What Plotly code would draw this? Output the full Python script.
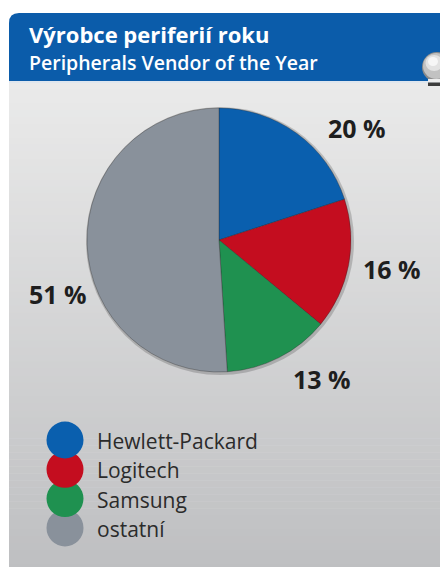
import math
import plotly.graph_objects as go

# ---- data ----
vendors = ["Hewlett-Packard", "Logitech", "Samsung", "ostatní"]
shares = [20, 16, 13, 51]
slice_colors = ["#0a5fae", "#c40d1f", "#1f9150", "#89919b"]
title_cz = "Výrobce periferií roku"
title_en = "Peripherals Vendor of the Year"

# ---- layout geometry (reference pixels; page body has an 8px margin) ----
OFF = 8
W, H = 448, 575
FW, FH = W - OFF, H - 2 * OFF
CX, CY, R = 219, 240, 132
label_angles = [51, 99.5, 143.5, 251.5]   # degrees clockwise from top
label_radii = [178, 175, 173, 170]

shapes = []

# body gradient (bands)
top_c = (234, 234, 234)
bot_c = (190, 191, 193)
y0b, y1b = 82, 571
n = 70
for i in range(n):
    t = i / (n - 1)
    c = tuple(int(round(top_c[k] + (bot_c[k] - top_c[k]) * t)) for k in range(3))
    ya = y0b + (y1b - y0b) * i / n
    yb = y0b + (y1b - y0b) * (i + 1) / n + 0.6
    shapes.append(dict(type="rect", xref="x", yref="y", x0=9, x1=443, y0=ya, y1=yb,
                       fillcolor="rgb(%d,%d,%d)" % c, line=dict(width=0), layer="below"))
# right blue border
shapes.append(dict(type="rect", xref="x", yref="y", x0=442, x1=449, y0=82, y1=576,
                   fillcolor="#1d67b3", line=dict(width=0), layer="below"))
shapes.append(dict(type="rect", xref="x", yref="y", x0=441, x1=443, y0=82, y1=576,
                   fillcolor="#5b8fc6", line=dict(width=0), layer="below"))
# header
shapes.append(dict(type="path", xref="x", yref="y",
                   path="M 9,82 L 9,23 Q 9,13 19,13 L 449,13 L 449,82 Z",
                   fillcolor="#0b5caa", line=dict(width=0), layer="below"))
shapes.append(dict(type="rect", xref="x", yref="y", x0=9, x1=442, y0=81, y1=83,
                   fillcolor="#dfe6ee", line=dict(width=0), layer="below"))
# knob sphere
shapes.append(dict(type="circle", xref="x", yref="y", x0=422, x1=452, y0=52, y1=82,
                   fillcolor="#8c8c8c", line=dict(width=0), layer="below"))
shapes.append(dict(type="circle", xref="x", yref="y", x0=423, x1=450, y0=53, y1=79,
                   fillcolor="#c2c2c2", line=dict(width=0), layer="below"))
shapes.append(dict(type="circle", xref="x", yref="y", x0=425.5, x1=443, y0=55, y1=71,
                   fillcolor="#e2e2e2", line=dict(width=0), layer="below"))
shapes.append(dict(type="circle", xref="x", yref="y", x0=428, x1=438, y0=57, y1=66,
                   fillcolor="#f6f6f6", line=dict(width=0), layer="below"))
shapes.append(dict(type="rect", xref="x", yref="y", x0=428, x1=449, y0=79, y1=82.5,
                   fillcolor="#ededed", line=dict(width=0), layer="below"))
shapes.append(dict(type="rect", xref="x", yref="y", x0=428, x1=449, y0=82.5, y1=86,
                   fillcolor="#3c3c3c", line=dict(width=0), layer="below"))
# pie shadow
shapes.append(dict(type="circle", xref="x", yref="y", x0=CX - R - 1, x1=CX + R + 3,
                   y0=CY - R - 1, y1=CY + R + 3,
                   fillcolor="rgba(0,0,0,0.18)", line=dict(width=0), layer="below"))

# legend circles (drawn bottom-up so earlier ones sit on top)
LX, LY0, LDY, LR = 65, 440, 29.3, 18.5
for i in reversed(range(len(vendors))):
    cy = LY0 + i * LDY
    shapes.append(dict(type="circle", xref="x", yref="y", x0=LX - LR, x1=LX + LR,
                       y0=cy - LR, y1=cy + LR, fillcolor=slice_colors[i],
                       line=dict(width=0), layer="above"))

annotations = []
annotations.append(dict(x=27, y=34, xref="x", yref="y", text="<b>%s</b>" % title_cz,
                        showarrow=False, xanchor="left", yanchor="middle",
                        font=dict(family="Open Sans", size=22, color="white")))
annotations.append(dict(x=27, y=62, xref="x", yref="y", text=title_en,
                        showarrow=False, xanchor="left", yanchor="middle",
                        font=dict(family="Open Sans", size=19.5, color="white", weight=600)))

for i, v in enumerate(shares):
    a = math.radians(label_angles[i])
    rr = label_radii[i]
    annotations.append(dict(x=CX + rr * math.sin(a), y=CY - rr * math.cos(a),
                            xref="x", yref="y", text="<b>%d %%</b>" % v, showarrow=False,
                            xanchor="center", yanchor="middle",
                            font=dict(family="Open Sans", size=25, color="#1e1e1e")))

for i, name in enumerate(vendors):
    annotations.append(dict(x=95, y=LY0 + i * LDY + 1, xref="x", yref="y", text=name,
                            showarrow=False, xanchor="left", yanchor="middle",
                            font=dict(family="Open Sans", size=21, color="#2b2b2b")))

fig = go.Figure()
fig.add_trace(go.Scatter(x=[], y=[], showlegend=False, hoverinfo="skip"))
fig.add_trace(go.Pie(
    labels=vendors, values=shares, sort=False, direction="clockwise", rotation=0,
    marker=dict(colors=slice_colors, line=dict(color="rgba(40,40,40,0.35)", width=1)),
    textinfo="none", hoverinfo="label+percent", showlegend=False,
    domain=dict(x=[(CX - R - OFF) / FW, (CX + R - OFF) / FW],
                y=[1 - (CY + R - OFF) / FH, 1 - (CY - R - OFF) / FH]),
))
fig.update_layout(
    width=FW, height=FH, margin=dict(l=0, r=0, t=0, b=0, pad=0),
    paper_bgcolor="white", plot_bgcolor="white",
    xaxis=dict(range=[OFF, W], visible=False, fixedrange=True, domain=[0, 1]),
    yaxis=dict(range=[OFF + FH, OFF], visible=False, fixedrange=True, domain=[0, 1]),
    shapes=shapes, annotations=annotations, showlegend=False,
)
fig.write_html("out.html")
